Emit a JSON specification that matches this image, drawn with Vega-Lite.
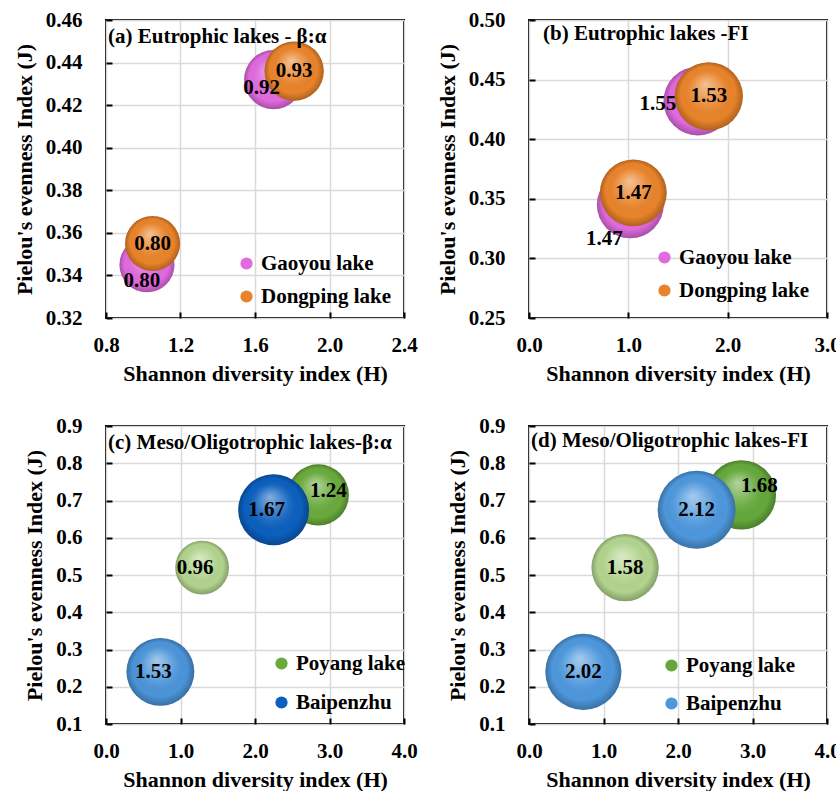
{
"$schema":"https://vega.github.io/schema/vega-lite/v6.json",
"padding":{"left":12,"top":8,"right":5,"bottom":5},
"background":"white",
"datasets":{"pts":[
{"panel":"a","lake":"Gaoyou lake","sample":1,"group":"Gaoyou lake","H":1.02,"J":0.345,"ratio":0.80},
{"panel":"a","lake":"Gaoyou lake","sample":2,"group":"Gaoyou lake","H":1.70,"J":0.432,"ratio":0.92},
{"panel":"a","lake":"Dongping lake","sample":1,"group":"Dongping lake","H":1.05,"J":0.355,"ratio":0.80},
{"panel":"a","lake":"Dongping lake","sample":2,"group":"Dongping lake","H":1.81,"J":0.436,"ratio":0.93},
{"panel":"b","lake":"Gaoyou lake","sample":1,"group":"Gaoyou lake","H":1.02,"J":0.345,"ratio":1.47},
{"panel":"b","lake":"Gaoyou lake","sample":2,"group":"Gaoyou lake","H":1.70,"J":0.432,"ratio":1.55},
{"panel":"b","lake":"Dongping lake","sample":1,"group":"Dongping lake","H":1.05,"J":0.355,"ratio":1.47},
{"panel":"b","lake":"Dongping lake","sample":2,"group":"Dongping lake","H":1.81,"J":0.436,"ratio":1.53},
{"panel":"c","lake":"Poyang lake","sample":1,"group":"Poyang lake (1)","H":1.29,"J":0.52,"ratio":0.96},
{"panel":"c","lake":"Poyang lake","sample":2,"group":"Poyang lake","H":2.85,"J":0.715,"ratio":1.24},
{"panel":"c","lake":"Baipenzhu","sample":1,"group":"Baipenzhu (1)","H":0.73,"J":0.24,"ratio":1.53},
{"panel":"c","lake":"Baipenzhu","sample":2,"group":"Baipenzhu","H":2.25,"J":0.675,"ratio":1.67},
{"panel":"d","lake":"Poyang lake","sample":1,"group":"Poyang lake (1)","H":1.29,"J":0.52,"ratio":1.58},
{"panel":"d","lake":"Poyang lake","sample":2,"group":"Poyang lake","H":2.85,"J":0.715,"ratio":1.68},
{"panel":"d","lake":"Baipenzhu","sample":1,"group":"Baipenzhu","H":0.73,"J":0.24,"ratio":2.02},
{"panel":"d","lake":"Baipenzhu","sample":2,"group":"Baipenzhu","H":2.25,"J":0.675,"ratio":2.12}
]},
"data":{"name":"pts"},
"columns":2,
"spacing":{"row":108,"column":125},
"bounds":"flush",
"concat":[
{
"width":298,"height":298,
"title":{"text":"(a) Eutrophic lakes - β:α","offset":-38,"dx":2},
"transform":[{"filter":"datum.panel==='a'"}],
"encoding":{
"x":{"field":"H","type":"quantitative","scale":{"domain":[0.8,2.4],"zero":false,"nice":false},"axis":{"values":[0.8,1.2,1.6,2.0,2.4],"format":".1f","title":"Shannon diversity index (H)"}},
"y":{"field":"J","type":"quantitative","scale":{"domain":[0.32,0.46],"zero":false,"nice":false},"axis":{"values":[0.32,0.34,0.36,0.38,0.40,0.42,0.44,0.46],"format":".2f","title":"Pielou's evenness Index (J)"}},
"size":{"field":"ratio","type":"quantitative","scale":{"domain":[0,0.93],"range":[0,3526]},"legend":null}
},
"layer":[
{"transform":[{"filter":"datum.lake==='Gaoyou lake'"}],"mark":{"type":"circle","opacity":1},"encoding":{"color":{"field":"group","type":"nominal","scale":{"domain":["Gaoyou lake","Dongping lake"],"range":["#e06ade","#e9832a"]},"legend":{"orient":"none","legendX":130,"legendY":233,"title":null}}}},
{"transform":[{"filter":"datum.lake==='Gaoyou lake'"}],"mark":{"type":"circle","opacity":1,"fill":{"gradient":"radial","x1":0.45,"y1":0.32,"r1":0,"x2":0.5,"y2":0.5,"r2":0.5,"stops":[{"offset":0,"color":"rgba(255,255,255,0.5)"},{"offset":0.5,"color":"rgba(255,255,255,0.08)"},{"offset":0.8,"color":"rgba(0,0,0,0)"},{"offset":1,"color":"rgba(0,0,0,0.25)"}]}},"encoding":{}},
{"transform":[{"filter":"datum.lake==='Dongping lake'"}],"mark":{"type":"circle","opacity":1},"encoding":{"color":{"field":"group","type":"nominal","scale":{"domain":["Gaoyou lake","Dongping lake"],"range":["#e06ade","#e9832a"]},"legend":{"orient":"none","legendX":130,"legendY":233,"title":null}}}},
{"transform":[{"filter":"datum.lake==='Dongping lake'"}],"mark":{"type":"circle","opacity":1,"fill":{"gradient":"radial","x1":0.45,"y1":0.32,"r1":0,"x2":0.5,"y2":0.5,"r2":0.5,"stops":[{"offset":0,"color":"rgba(255,255,255,0.5)"},{"offset":0.5,"color":"rgba(255,255,255,0.08)"},{"offset":0.8,"color":"rgba(0,0,0,0)"},{"offset":1,"color":"rgba(0,0,0,0.25)"}]}},"encoding":{}},
{"transform":[{"filter":"datum.lake==='Dongping lake'"}],"mark":{"type":"text","font":"Liberation Serif","fontSize":21,"fontWeight":"bold","color":"black"},"encoding":{"text":{"field":"ratio","type":"quantitative","format":".2f"},"size":{"value":21}}},
{"transform":[{"filter":"datum.lake==='Gaoyou lake' && datum.sample===1"}],"mark":{"type":"text","font":"Liberation Serif","fontSize":21,"fontWeight":"bold","color":"black","dx":-5,"dy":16},"encoding":{"text":{"field":"ratio","type":"quantitative","format":".2f"},"size":{"value":21}}},
{"transform":[{"filter":"datum.lake==='Gaoyou lake' && datum.sample===2"}],"mark":{"type":"text","font":"Liberation Serif","fontSize":21,"fontWeight":"bold","color":"black","dx":-12,"dy":8},"encoding":{"text":{"field":"ratio","type":"quantitative","format":".2f"},"size":{"value":21}}}
]
},
{
"width":298,"height":298,
"title":{"text":"(b) Eutrophic lakes -FI","offset":-35,"dx":14},
"transform":[{"filter":"datum.panel==='b'"}],
"encoding":{
"x":{"field":"H","type":"quantitative","scale":{"domain":[0,3],"zero":false,"nice":false},"axis":{"values":[0,1,2,3],"format":".1f","title":"Shannon diversity index (H)"}},
"y":{"field":"J","type":"quantitative","scale":{"domain":[0.25,0.5],"zero":false,"nice":false},"axis":{"values":[0.25,0.30,0.35,0.40,0.45,0.50],"format":".2f","title":"Pielou's evenness Index (J)"}},
"size":{"field":"ratio","type":"quantitative","scale":{"domain":[0,1.55],"range":[0,4717]},"legend":null}
},
"layer":[
{"transform":[{"filter":"datum.lake==='Gaoyou lake'"}],"mark":{"type":"circle","opacity":1},"encoding":{"color":{"field":"group","type":"nominal","scale":{"domain":["Gaoyou lake","Dongping lake"],"range":["#e06ade","#e9832a"]},"legend":{"orient":"none","legendX":125,"legendY":227,"title":null}}}},
{"transform":[{"filter":"datum.lake==='Gaoyou lake'"}],"mark":{"type":"circle","opacity":1,"fill":{"gradient":"radial","x1":0.45,"y1":0.32,"r1":0,"x2":0.5,"y2":0.5,"r2":0.5,"stops":[{"offset":0,"color":"rgba(255,255,255,0.5)"},{"offset":0.5,"color":"rgba(255,255,255,0.08)"},{"offset":0.8,"color":"rgba(0,0,0,0)"},{"offset":1,"color":"rgba(0,0,0,0.25)"}]}},"encoding":{}},
{"transform":[{"filter":"datum.lake==='Dongping lake'"}],"mark":{"type":"circle","opacity":1},"encoding":{"color":{"field":"group","type":"nominal","scale":{"domain":["Gaoyou lake","Dongping lake"],"range":["#e06ade","#e9832a"]},"legend":{"orient":"none","legendX":125,"legendY":227,"title":null}}}},
{"transform":[{"filter":"datum.lake==='Dongping lake'"}],"mark":{"type":"circle","opacity":1,"fill":{"gradient":"radial","x1":0.45,"y1":0.32,"r1":0,"x2":0.5,"y2":0.5,"r2":0.5,"stops":[{"offset":0,"color":"rgba(255,255,255,0.5)"},{"offset":0.5,"color":"rgba(255,255,255,0.08)"},{"offset":0.8,"color":"rgba(0,0,0,0)"},{"offset":1,"color":"rgba(0,0,0,0.25)"}]}},"encoding":{}},
{"transform":[{"filter":"datum.lake==='Dongping lake'"}],"mark":{"type":"text","font":"Liberation Serif","fontSize":21,"fontWeight":"bold","color":"black"},"encoding":{"text":{"field":"ratio","type":"quantitative","format":".2f"},"size":{"value":21}}},
{"transform":[{"filter":"datum.lake==='Gaoyou lake' && datum.sample===1"}],"mark":{"type":"text","font":"Liberation Serif","fontSize":21,"fontWeight":"bold","color":"black","dx":-26,"dy":34},"encoding":{"text":{"field":"ratio","type":"quantitative","format":".2f"},"size":{"value":21}}},
{"transform":[{"filter":"datum.lake==='Gaoyou lake' && datum.sample===2"}],"mark":{"type":"text","font":"Liberation Serif","fontSize":21,"fontWeight":"bold","color":"black","dx":-40,"dy":3},"encoding":{"text":{"field":"ratio","type":"quantitative","format":".2f"},"size":{"value":21}}}
]
},
{
"width":298,"height":298,
"title":{"text":"(c) Meso/Oligotrophic lakes-β:α","offset":-38,"dx":2},
"transform":[{"filter":"datum.panel==='c'"}],
"encoding":{
"x":{"field":"H","type":"quantitative","scale":{"domain":[0,4],"zero":false,"nice":false},"axis":{"values":[0,1,2,3,4],"format":".1f","title":"Shannon diversity index (H)"}},
"y":{"field":"J","type":"quantitative","scale":{"domain":[0.1,0.9],"zero":false,"nice":false},"axis":{"values":[0.1,0.2,0.3,0.4,0.5,0.6,0.7,0.8,0.9],"format":".1f","title":"Pielou's evenness Index (J)"}},
"size":{"field":"ratio","type":"quantitative","scale":{"domain":[0,1.67],"range":[0,5027]},"legend":null}
},
"layer":[
{"transform":[{"filter":"datum.lake==='Poyang lake'"}],"mark":{"type":"circle","opacity":1},"encoding":{"color":{"field":"group","type":"nominal","scale":{"domain":["Poyang lake","Baipenzhu","Poyang lake (1)","Baipenzhu (1)"],"range":["#6aaa3c","#0b5fbe","#b2d48e","#4b94d9"]},"legend":{"orient":"none","legendX":165,"legendY":227,"title":null,"values":["Poyang lake","Baipenzhu"],"rowPadding":17}}}},
{"transform":[{"filter":"datum.lake==='Poyang lake'"}],"mark":{"type":"circle","opacity":1,"fill":{"gradient":"radial","x1":0.45,"y1":0.32,"r1":0,"x2":0.5,"y2":0.5,"r2":0.5,"stops":[{"offset":0,"color":"rgba(255,255,255,0.5)"},{"offset":0.5,"color":"rgba(255,255,255,0.08)"},{"offset":0.8,"color":"rgba(0,0,0,0)"},{"offset":1,"color":"rgba(0,0,0,0.25)"}]}},"encoding":{}},
{"transform":[{"filter":"datum.lake==='Baipenzhu'"}],"mark":{"type":"circle","opacity":1},"encoding":{"color":{"field":"group","type":"nominal","scale":{"domain":["Poyang lake","Baipenzhu","Poyang lake (1)","Baipenzhu (1)"],"range":["#6aaa3c","#0b5fbe","#b2d48e","#4b94d9"]},"legend":{"orient":"none","legendX":165,"legendY":227,"title":null,"values":["Poyang lake","Baipenzhu"],"rowPadding":17}}}},
{"transform":[{"filter":"datum.lake==='Baipenzhu'"}],"mark":{"type":"circle","opacity":1,"fill":{"gradient":"radial","x1":0.45,"y1":0.32,"r1":0,"x2":0.5,"y2":0.5,"r2":0.5,"stops":[{"offset":0,"color":"rgba(255,255,255,0.5)"},{"offset":0.5,"color":"rgba(255,255,255,0.08)"},{"offset":0.8,"color":"rgba(0,0,0,0)"},{"offset":1,"color":"rgba(0,0,0,0.25)"}]}},"encoding":{}},
{"transform":[{"filter":"!(datum.lake==='Poyang lake' && datum.sample===2)"}],"mark":{"type":"text","font":"Liberation Serif","fontSize":21,"fontWeight":"bold","color":"black","dx":-7},"encoding":{"text":{"field":"ratio","type":"quantitative","format":".2f"},"size":{"value":21}}},
{"transform":[{"filter":"datum.lake==='Poyang lake' && datum.sample===2"}],"mark":{"type":"text","font":"Liberation Serif","fontSize":21,"fontWeight":"bold","color":"black","dx":10,"dy":-4},"encoding":{"text":{"field":"ratio","type":"quantitative","format":".2f"},"size":{"value":21}}}
]
},
{
"width":298,"height":298,
"title":{"text":"(d) Meso/Oligotrophic lakes-FI","offset":-36,"dx":2},
"transform":[{"filter":"datum.panel==='d'"}],
"encoding":{
"x":{"field":"H","type":"quantitative","scale":{"domain":[0,4],"zero":false,"nice":false},"axis":{"values":[0,1,2,3,4],"format":".1f","title":"Shannon diversity index (H)"}},
"y":{"field":"J","type":"quantitative","scale":{"domain":[0.1,0.9],"zero":false,"nice":false},"axis":{"values":[0.1,0.2,0.3,0.4,0.5,0.6,0.7,0.8,0.9],"format":".1f","title":"Pielou's evenness Index (J)"}},
"size":{"field":"ratio","type":"quantitative","scale":{"domain":[0,2.12],"range":[0,6082]},"legend":null}
},
"layer":[
{"transform":[{"filter":"datum.lake==='Poyang lake'"}],"mark":{"type":"circle","opacity":1},"encoding":{"color":{"field":"group","type":"nominal","scale":{"domain":["Poyang lake","Baipenzhu","Poyang lake (1)"],"range":["#64a83b","#4d97dc","#b2d48e"]},"legend":{"orient":"none","legendX":132,"legendY":229,"title":null,"values":["Poyang lake","Baipenzhu"],"rowPadding":16}}}},
{"transform":[{"filter":"datum.lake==='Poyang lake'"}],"mark":{"type":"circle","opacity":1,"fill":{"gradient":"radial","x1":0.45,"y1":0.32,"r1":0,"x2":0.5,"y2":0.5,"r2":0.5,"stops":[{"offset":0,"color":"rgba(255,255,255,0.5)"},{"offset":0.5,"color":"rgba(255,255,255,0.08)"},{"offset":0.8,"color":"rgba(0,0,0,0)"},{"offset":1,"color":"rgba(0,0,0,0.25)"}]}},"encoding":{}},
{"transform":[{"filter":"datum.lake==='Baipenzhu'"}],"mark":{"type":"circle","opacity":1},"encoding":{"color":{"field":"group","type":"nominal","scale":{"domain":["Poyang lake","Baipenzhu","Poyang lake (1)"],"range":["#64a83b","#4d97dc","#b2d48e"]},"legend":{"orient":"none","legendX":132,"legendY":229,"title":null,"values":["Poyang lake","Baipenzhu"],"rowPadding":16}}}},
{"transform":[{"filter":"datum.lake==='Baipenzhu'"}],"mark":{"type":"circle","opacity":1,"fill":{"gradient":"radial","x1":0.45,"y1":0.32,"r1":0,"x2":0.5,"y2":0.5,"r2":0.5,"stops":[{"offset":0,"color":"rgba(255,255,255,0.5)"},{"offset":0.5,"color":"rgba(255,255,255,0.08)"},{"offset":0.8,"color":"rgba(0,0,0,0)"},{"offset":1,"color":"rgba(0,0,0,0.25)"}]}},"encoding":{}},
{"transform":[{"filter":"!(datum.lake==='Poyang lake' && datum.sample===2)"}],"mark":{"type":"text","font":"Liberation Serif","fontSize":21,"fontWeight":"bold","color":"black"},"encoding":{"text":{"field":"ratio","type":"quantitative","format":".2f"},"size":{"value":21}}},
{"transform":[{"filter":"datum.lake==='Poyang lake' && datum.sample===2"}],"mark":{"type":"text","font":"Liberation Serif","fontSize":21,"fontWeight":"bold","color":"black","dx":18,"dy":-9},"encoding":{"text":{"field":"ratio","type":"quantitative","format":".2f"},"size":{"value":21}}}
]
}
],
"resolve":{"scale":{"x":"independent","y":"independent","color":"independent","size":"independent"},"legend":{"color":"independent","size":"independent"}},
"config":{
"font":"Liberation Serif",
"view":{"stroke":"black","strokeWidth":2},
"axis":{"labelFont":"Liberation Serif","labelFontSize":21,"labelFontWeight":"bold","labelColor":"black","labelFlush":false,"labelOverlap":false,"titleFont":"Liberation Serif","titleFontSize":22,"titleFontWeight":"bold","titleColor":"black","domain":false,"grid":true,"gridColor":"#d9d9d9","gridWidth":1.5,"tickColor":"black","tickWidth":2,"tickSize":-6},
"axisX":{"labelPadding":22,"titlePadding":8},
"axisY":{"labelPadding":30,"titlePadding":9},
"legend":{"labelFont":"Liberation Serif","labelFontSize":21,"labelFontWeight":"bold","labelColor":"black","symbolType":"circle","symbolSize":150,"symbolStrokeWidth":0,"rowPadding":11,"labelOffset":4,"padding":0},
"title":{"font":"Liberation Serif","fontSize":21,"fontWeight":"bold","color":"black","anchor":"start","frame":"group","baseline":"alphabetic"}
}
}
